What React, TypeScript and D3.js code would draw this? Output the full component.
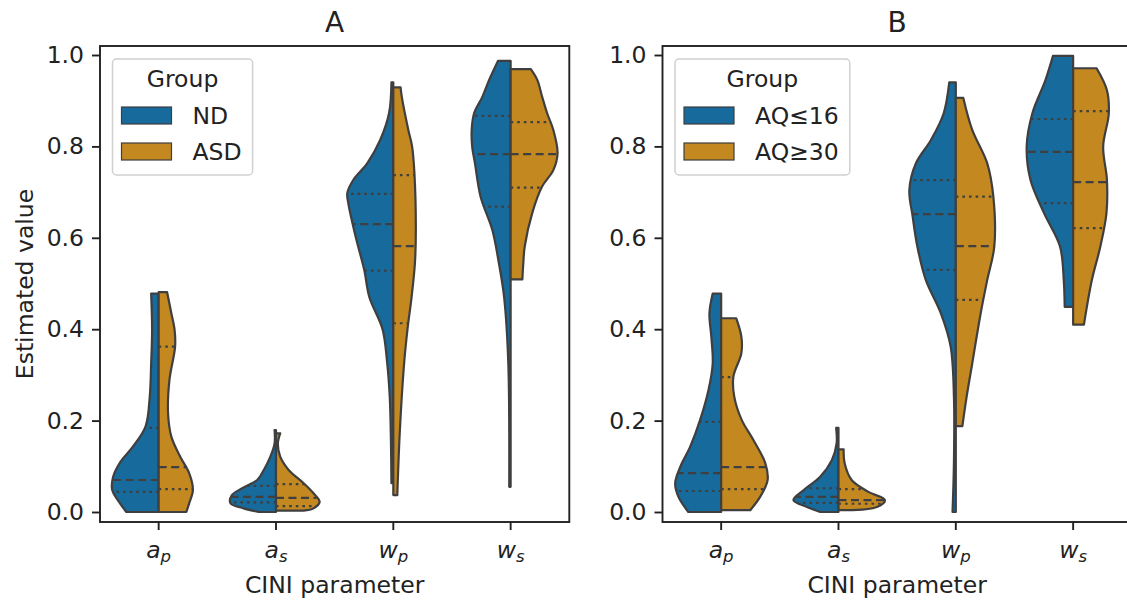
import React, { useRef, useEffect } from 'react';
import * as d3 from 'd3';

// categories on the x axis (math italic base + subscript)
const categoryKeys = ['ap', 'as', 'wp', 'ws'];
const categoryBase = ['a', 'a', 'w', 'w'];
const categorySub = ['p', 's', 'p', 's'];

const panelTitles = ['A', 'B'];
const panelGroups = [
  ['ND', 'ASD'],
  ['AQ≤16', 'AQ≥30'],
];
const yTicks = [0, 0.2, 0.4, 0.6, 0.8, 1.0];

// violin halves: [value, relative density], bottom to top
const aNdProfiles: [number, number][][] = [
  [[0, 0.69], [0.026, 0.87], [0.048, 0.99], [0.077, 0.97], [0.107, 0.83], [0.143, 0.55], [0.187, 0.28], [0.252, 0.19], [0.325, 0.16], [0.398, 0.14], [0.478, 0.16]],
  [[0, 0.37], [0.008, 0.69], [0.019, 0.97], [0.037, 0.94], [0.052, 0.72], [0.07, 0.4], [0.092, 0.26], [0.121, 0.12], [0.15, 0.03], [0.179, 0.03]],
  [[0.063, 0.04], [0.15, 0.05], [0.25, 0.075], [0.326, 0.13], [0.4, 0.23], [0.47, 0.51], [0.53, 0.62], [0.589, 0.77], [0.632, 0.87], [0.676, 0.96], [0.698, 0.98], [0.727, 0.85], [0.764, 0.55], [0.814, 0.28], [0.873, 0.09], [0.94, 0.04]],
  [[0.055, 0.03], [0.326, 0.05], [0.471, 0.14], [0.544, 0.25], [0.617, 0.39], [0.69, 0.64], [0.763, 0.76], [0.8, 0.82], [0.836, 0.83], [0.872, 0.78], [0.909, 0.6], [0.945, 0.46], [0.987, 0.27]],
];
const aAsdProfiles: [number, number][][] = [
  [[0, 0.59], [0.019, 0.65], [0.048, 0.73], [0.085, 0.65], [0.121, 0.46], [0.165, 0.27], [0.216, 0.2], [0.289, 0.23], [0.362, 0.35], [0.398, 0.34], [0.435, 0.27], [0.481, 0.18]],
  [[0.003, 0.59], [0.008, 0.8], [0.022, 0.93], [0.041, 0.8], [0.063, 0.59], [0.092, 0.27], [0.121, 0.09], [0.15, 0.04], [0.172, 0.09]],
  [[0.037, 0.085], [0.179, 0.14], [0.325, 0.23], [0.398, 0.3], [0.471, 0.39], [0.544, 0.46], [0.617, 0.48], [0.741, 0.45], [0.8, 0.4], [0.836, 0.32], [0.909, 0.18], [0.929, 0.155]],
  [[0.509, 0.25], [0.544, 0.27], [0.581, 0.3], [0.654, 0.46], [0.712, 0.67], [0.748, 0.91], [0.785, 1.0], [0.836, 0.91], [0.872, 0.78], [0.909, 0.67], [0.945, 0.57], [0.969, 0.43]],
];
const bLowProfiles: [number, number][][] = [
  [[0, 0.7], [0.033, 0.91], [0.063, 0.98], [0.099, 0.87], [0.143, 0.66], [0.201, 0.45], [0.267, 0.27], [0.325, 0.18], [0.384, 0.21], [0.435, 0.25], [0.478, 0.18]],
  [[0, 0.39], [0.011, 0.67], [0.026, 0.96], [0.048, 0.74], [0.077, 0.39], [0.114, 0.14], [0.15, 0.04], [0.184, 0.05]],
  [[0, 0.07], [0.107, 0.04], [0.252, 0.04], [0.362, 0.11], [0.435, 0.32], [0.508, 0.64], [0.581, 0.82], [0.647, 0.92], [0.705, 0.99], [0.763, 0.85], [0.814, 0.53], [0.872, 0.26], [0.94, 0.14]],
  [[0.449, 0.18], [0.508, 0.2], [0.581, 0.28], [0.654, 0.62], [0.727, 0.91], [0.8, 0.99], [0.872, 0.87], [0.945, 0.59], [0.998, 0.43]],
];
const bHighProfiles: [number, number][][] = [
  [[0.004, 0.62], [0.033, 0.83], [0.07, 0.99], [0.107, 0.94], [0.157, 0.69], [0.201, 0.44], [0.252, 0.28], [0.296, 0.26], [0.347, 0.43], [0.384, 0.43], [0.424, 0.32]],
  [[0.004, 0.18], [0.011, 0.82], [0.026, 0.99], [0.044, 0.64], [0.07, 0.28], [0.107, 0.13], [0.137, 0.11]],
  [[0.188, 0.14], [0.252, 0.23], [0.325, 0.35], [0.435, 0.53], [0.508, 0.67], [0.581, 0.82], [0.69, 0.8], [0.763, 0.67], [0.836, 0.35], [0.906, 0.16]],
  [[0.41, 0.23], [0.508, 0.4], [0.581, 0.58], [0.654, 0.71], [0.727, 0.72], [0.8, 0.64], [0.872, 0.76], [0.923, 0.72], [0.971, 0.5]],
];

// quartiles [q1, median, q3]
const aNdQuart = [[0.044, 0.07, 0.184], [0.021, 0.033, 0.057], [0.528, 0.63, 0.696], [0.668, 0.783, 0.867]];
const aAsdQuart = [[0.05, 0.098, 0.362], [0.013, 0.031, 0.061], [0.413, 0.582, 0.737], [0.71, 0.783, 0.853]];
const bLowQuart = [[0.046, 0.085, 0.197], [0.02, 0.033, 0.052], [0.53, 0.652, 0.726], [0.676, 0.788, 0.86]];
const bHighQuart = [[0.05, 0.098, 0.295], [0.018, 0.026, 0.05], [0.464, 0.582, 0.69], [0.621, 0.722, 0.877]];

const panelProfiles = [[aNdProfiles, aAsdProfiles], [bLowProfiles, bHighProfiles]];
const panelQuarts = [[aNdQuart, aAsdQuart], [bLowQuart, bHighQuart]];

const colors = ['#176a9c', '#c38820'];
const edge = '#3f3f3f';
const font = 'DejaVu Sans, sans-serif';

const App = () => {
  const svgRef = useRef<SVGSVGElement>(null);

  useEffect(() => {
    const svg = d3.select(svgRef.current);
    svg.selectAll('*').remove();

    const top = 46, bottom = 522, plotW = 469.3;
    const lefts = [100, 662.5];
    const y = d3.scaleLinear().domain([0, 1]).range([512, 55]);

    lefts.forEach((left, p) => {
      const g = svg.append('g');
      const x = d3.scaleBand().domain(categoryKeys).range([left, left + plotW]);
      const maxW = x.bandwidth() * 0.4;
      const cx = (k: string) => (x(k) as number) + x.bandwidth() / 2;

      // violins
      categoryKeys.forEach((k, i) => {
        [0, 1].forEach(side => {
          const prof = panelProfiles[p][side][i];
          const dir = side === 0 ? -1 : 1;
          const c = cx(k);
          const area = d3
            .area<[number, number]>()
            .y(d => y(d[0]))
            .x0(c)
            .x1(d => c + dir * d[1] * maxW)
            .curve(d3.curveCatmullRom.alpha(0.5));
          g.append('path')
            .attr('d', area(prof))
            .attr('fill', colors[side])
            .attr('stroke', edge)
            .attr('stroke-width', 2.2)
            .attr('stroke-linejoin', 'round');

          const dens = d3.scaleLinear().domain(prof.map(d => d[0])).range(prof.map(d => d[1]));
          panelQuarts[p][side][i].forEach((q, qi) => {
            g.append('line')
              .attr('x1', c)
              .attr('x2', c + dir * dens(q) * maxW)
              .attr('y1', y(q))
              .attr('y2', y(q))
              .attr('stroke', edge)
              .attr('stroke-width', 2.2)
              .attr('stroke-dasharray', qi === 1 ? '8,4.5' : '2.6,4');
          });
        });
      });

      // frame
      g.append('rect')
        .attr('x', left)
        .attr('y', top)
        .attr('width', plotW)
        .attr('height', bottom - top)
        .attr('fill', 'none')
        .attr('stroke', '#222')
        .attr('stroke-width', 1.9);

      // y axis
      const ya = g
        .append('g')
        .attr('transform', `translate(${left},0)`)
        .call(d3.axisLeft(y).tickValues(yTicks).tickFormat(d3.format('.1f')).tickSize(8).tickPadding(8));
      ya.select('.domain').remove();
      ya.selectAll('line').attr('stroke', '#222').attr('stroke-width', 1.9);
      ya.selectAll('text').attr('font-family', font).attr('font-size', 23.5).attr('fill', '#222');

      // x axis
      const xa = g
        .append('g')
        .attr('transform', `translate(0,${bottom})`)
        .call(d3.axisBottom(x).tickSize(8).tickFormat(() => ''));
      xa.select('.domain').remove();
      xa.selectAll('line').attr('stroke', '#222').attr('stroke-width', 1.9);
      categoryKeys.forEach((k, i) => {
        const t = g
          .append('text')
          .attr('x', cx(k))
          .attr('y', 558)
          .attr('text-anchor', 'middle')
          .attr('font-family', font)
          .attr('font-style', 'italic')
          .attr('font-size', 23.5)
          .attr('fill', '#222');
        t.append('tspan').text(categoryBase[i]);
        t.append('tspan').attr('font-size', 16.5).attr('dy', 4).text(categorySub[i]);
      });

      g.append('text')
        .attr('x', left + plotW / 2)
        .attr('y', 593)
        .attr('text-anchor', 'middle')
        .attr('font-family', font)
        .attr('font-size', 23.5)
        .attr('fill', '#222')
        .text('CINI parameter');

      g.append('text')
        .attr('x', 100 + plotW / 2 + (left - 100))
        .attr('y', 32)
        .attr('text-anchor', 'middle')
        .attr('font-family', font)
        .attr('font-size', 28)
        .attr('fill', '#222')
        .text(panelTitles[p]);

      if (p === 0) {
        g.append('text')
          .attr('transform', `translate(33,${(top + bottom) / 2}) rotate(-90)`)
          .attr('text-anchor', 'middle')
          .attr('font-family', font)
          .attr('font-size', 23.5)
          .attr('fill', '#222')
          .text('Estimated value');
      }

      // legend
      const lx = left + 12.5, ly = 59;
      const leg = g.append('g');
      const box = leg
        .append('rect')
        .attr('x', lx)
        .attr('y', ly)
        .attr('height', 116)
        .attr('rx', 4)
        .attr('fill', 'white')
        .attr('fill-opacity', 0.8)
        .attr('stroke', '#d0d0d0')
        .attr('stroke-width', 1.5);
      let maxText = 0;
      panelGroups[p].forEach((name, gi) => {
        leg.append('rect')
          .attr('x', lx + 9)
          .attr('y', ly + 48 + gi * 36)
          .attr('width', 50)
          .attr('height', 17)
          .attr('fill', colors[gi])
          .attr('stroke', edge)
          .attr('stroke-width', 1.2);
        const tx = leg
          .append('text')
          .attr('x', lx + 80)
          .attr('y', ly + 65 + gi * 36)
          .attr('font-family', font)
          .attr('font-size', 23.5)
          .attr('fill', '#222')
          .text(name);
        const node = tx.node() as SVGTextElement;
        maxText = Math.max(maxText, node.getComputedTextLength());
      });
      const bw = 80 + maxText + 11;
      box.attr('width', bw);
      leg.append('text')
        .attr('x', lx + bw / 2)
        .attr('y', ly + 28)
        .attr('text-anchor', 'middle')
        .attr('font-family', font)
        .attr('font-size', 23.5)
        .attr('fill', '#222')
        .text('Group');
    });
  }, []);

  return (
    <svg
      ref={svgRef}
      width={1127}
      height={600}
      style={{ position: 'absolute', left: 0, top: 0, background: 'white' }}
    />
  );
};

export default App;
